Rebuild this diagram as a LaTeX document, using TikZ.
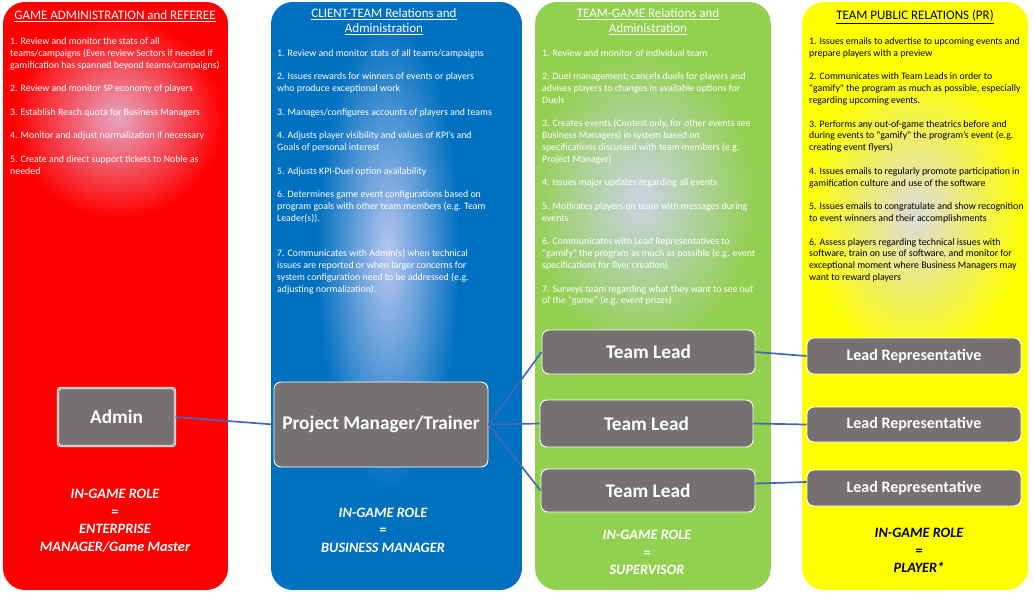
\documentclass[tikz,border=0pt]{standalone}
\usepackage{fontspec}
\setmainfont{Carlito}[Ligatures=TeXOff]
\definecolor{cred}{HTML}{FF0000}
\definecolor{credc}{HTML}{E6A6C2}
\definecolor{cblue}{HTML}{0070C0}
\definecolor{cbluec}{HTML}{B8C6F0}
\definecolor{cgreen}{HTML}{92D050}
\definecolor{cgreenc}{HTML}{C8D3E4}
\definecolor{cyel}{HTML}{FFFF00}
\definecolor{cyelc}{HTML}{DCDCDC}
\definecolor{boxgray}{HTML}{767171}
\definecolor{linkblue}{HTML}{4169B5}
\begin{document}
\begin{tikzpicture}[x=1pt,y=-1pt,
  colshape/.style={rounded corners=22pt},
  itemtext/.style={anchor=north west, inner sep=0pt, align=left, text=white,
    font=\fontsize{9.85}{11.8}\selectfont},
  ttltext/.style={anchor=north, inner sep=0pt, align=center, text=white,
    font=\fontsize{13}{15.5}\selectfont},
  roletext/.style={anchor=north, inner sep=0pt, align=center, text=white,
    font=\bfseries\itshape\fontsize{14.3}{17.6}\selectfont},
  rolebox/.style={fill=boxgray, draw=white, line width=0.9pt, rounded corners=7pt,
    text=white, inner sep=0pt, font=\bfseries\fontsize{19.3}{22}\selectfont},
  repbox/.style={rolebox, font=\bfseries\fontsize{16}{18}\selectfont},
  link/.style={draw=linkblue, line width=1.7pt}
]
\useasboundingbox (0,0) rectangle (1033,594);
\fill[white] (0,0) rectangle (1033,594);

% ---- column backgrounds ----
\begin{scope}
  \clip[colshape] (3,2) rectangle (228,590);
  \fill[cred] (3,2) rectangle (228,590);
  \shade[inner color=credc, outer color=cred] (118,118) ellipse (105 and 100);
\end{scope}
\begin{scope}
  \clip[colshape] (271,2) rectangle (522,590);
  \fill[cblue] (271,2) rectangle (522,590);
  \shade[inner color=cbluec, outer color=cblue] (388,255) ellipse (72 and 235);
\end{scope}
\begin{scope}
  \clip[colshape] (535,2) rectangle (771,590);
  \fill[cgreen] (535,2) rectangle (771,590);
  \shade[inner color=cgreenc, outer color=cgreen] (642,200) ellipse (115 and 150);
\end{scope}
\begin{scope}
  \clip[colshape] (802,2) rectangle (1028,590);
  \fill[cyel] (802,2) rectangle (1028,590);
  \shade[inner color=cyelc, outer color=cyel] (915,215) ellipse (110 and 150);
\end{scope}

% ---- titles ----
\node[ttltext] (t1) at (115,10) {\underline{GAME ADMINISTRATION and REFEREE}};
\node[ttltext] (t2) at (384,8) {\underline{CLIENT-TEAM Relations and}\\\underline{Administration}};
\node[ttltext] (t3) at (648,8) {\underline{TEAM-GAME Relations and}\\\underline{Administration}};
\node[ttltext, text=black] (t4) at (915,10) {\underline{TEAM PUBLIC RELATIONS (PR)}};

% ---- item lists ----
\node[itemtext] (i1) at (10,37.5) {%
1. Review and monitor the stats of all\\
teams/campaigns (Even review Sectors if needed if\\
gamification has spanned beyond teams/campaigns)\\[11.8pt]
2. Review and monitor SP economy of players\\[11.8pt]
3. Establish Reach quota for Business Managers\\[11.8pt]
4. Monitor and adjust normalization if necessary\\[11.8pt]
5. Create and direct support tickets to Noble as\\
needed};

\node[itemtext] (i2) at (277,49) {%
1. Review and monitor stats of all teams/campaigns\\[11.8pt]
2. Issues rewards for winners of events or players\\
who produce exceptional work\\[11.8pt]
3. Manages/configures accounts of players and teams\\[11.8pt]
4. Adjusts player visibility and values of KPI’s and\\
Goals of personal interest\\[11.8pt]
5. Adjusts KPI-Duel option availability\\[11.8pt]
6. Determines game event configurations based on\\
program goals with other team members (e.g. Team\\
Leader(s)).\\[23.6pt]
7. Communicates with Admin(s) when technical\\
issues are reported or when larger concerns for\\
system configuration need to be addressed (e.g.\\
adjusting normalization).};

\node[itemtext] (i3) at (542,49) {%
1. Review and monitor of individual team\\[11.8pt]
2. Duel management; cancels duels for players and\\
advises players to changes in available options for\\
Duels\\[11.8pt]
3. Creates events (Contest only, for other events see\\
Business Managers) in system based on\\
specifications discussed with team members (e.g.\\
Project Manager)\\[11.8pt]
4. Issues major updates regarding all events\\[11.8pt]
5. Motivates players on team with messages during\\
events\\[11.8pt]
6. Communicates with Lead Representatives to\\
"gamify" the program as much as possible (e.g. event\\
specifications for flyer creation)\\[11.8pt]
7. Surveys team regarding what they want to see out\\
of the "game" (e.g. event prizes)};

\node[itemtext, text=black] (i4) at (809,37.5) {%
1. Issues emails to advertise to upcoming events and\\
prepare players with a preview\\[11.8pt]
2. Communicates with Team Leads in order to\\
"gamify" the program as much as possible, especially\\
regarding upcoming events.\\[11.8pt]
3. Performs any out-of-game theatrics before and\\
during events to "gamify" the program’s event (e.g.\\
creating event flyers)\\[11.8pt]
4. Issues emails to regularly promote participation in\\
gamification culture and use of the software\\[11.8pt]
5. Issues emails to congratulate and show recognition\\
to event winners and their accomplishments\\[11.8pt]
6. Assess players regarding technical issues with\\
software, train on use of software, and monitor for\\
exceptional moment where Business Managers may\\
want to reward players};

% ---- role boxes ----
\node[rolebox, minimum width=117pt, minimum height=58pt, rounded corners=3pt, double=boxgray, double distance=0.6pt] (admin) at (116.5,417) {Admin};
\node[rolebox, minimum width=214pt, minimum height=85pt] (pm) at (381,424.5) {Project Manager/Trainer};
\node[rolebox, minimum width=213pt, minimum height=44pt] (tl1) at (648.5,352) {Team Lead};
\node[rolebox, minimum width=213pt, minimum height=47pt] (tl2) at (646.5,423.5) {Team Lead};
\node[rolebox, minimum width=214pt, minimum height=43pt] (tl3) at (648,490.5) {Team Lead};
\node[repbox, minimum width=214pt, minimum height=36pt] (lr1) at (914,356) {Lead Representative};
\node[repbox, minimum width=214pt, minimum height=35pt] (lr2) at (914,424.5) {Lead Representative};
\node[repbox, minimum width=214pt, minimum height=36pt] (lr3) at (914,488) {Lead Representative};

% ---- connectors ----
\draw[link] (admin.east) -- (pm.west);
\draw[link] (pm.east) -- (tl1.west);
\draw[link] (pm.east) -- (tl2.west);
\draw[link] (pm.east) -- (tl3.west);
\draw[link] (tl1.east) -- (lr1.west);
\draw[link] (tl2.east) -- (lr2.west);
\draw[link] ([yshift=7pt]tl3.east) -- ([yshift=6pt]lr3.west);

% ---- in-game roles ----
\node[roletext] (r1) at (115,489) {IN-GAME ROLE\\=\\ENTERPRISE\\MANAGER/Game Master};
\node[roletext] (r2) at (383,507.5) {IN-GAME ROLE\\=\\BUSINESS MANAGER};
\node[roletext] (r3) at (647,530) {IN-GAME ROLE\\=\\SUPERVISOR};
\node[roletext, text=black] (r4) at (919,528) {IN-GAME ROLE\\=\\PLAYER*};
\end{tikzpicture}
\end{document}
